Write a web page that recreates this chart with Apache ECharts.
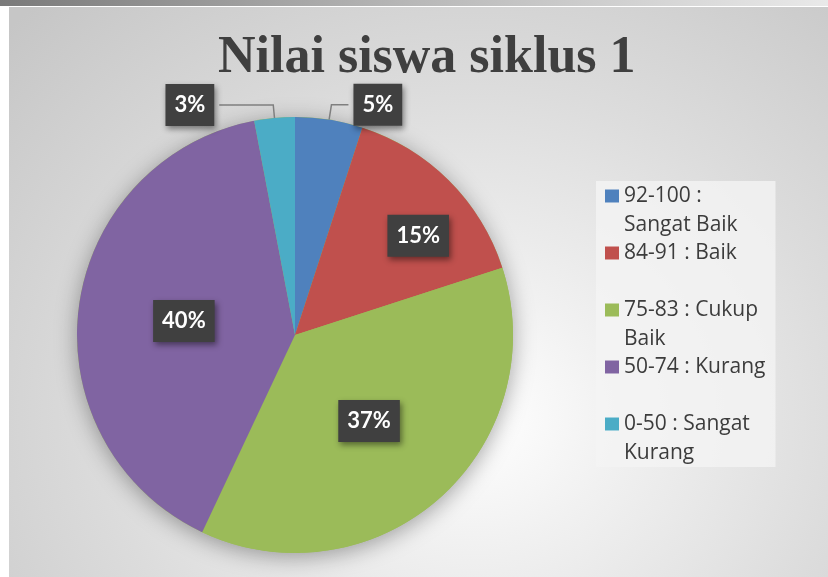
<!DOCTYPE html>
<html>
<head>
<meta charset="utf-8">
<script src="https://cdn.jsdelivr.net/npm/echarts@6/dist/echarts.min.js"></script>
<style>
  html, body { margin: 0; padding: 0; background: #fff; }
  #topbar { position: absolute; left: 0; top: 0; width: 828px; height: 6px;
    background: linear-gradient(to right, #7a7a7a, #b8b8b8 50%, #e9e9e9); }
  #chart { position: absolute; left: 9px; top: 7px; width: 819px; height: 570px;
    background: radial-gradient(ellipse 78% 100% at 57% 72%, #ffffff 0%, #f1f1f1 22%, #dcdcdc 58%, #c6c6c6 100%); }
</style>
</head>
<body>
<div id="topbar"></div>
<div id="chart"></div>
<script>
// nilai siswa siklus 1
var categories = ['92-100 : Sangat Baik', '84-91 : Baik', '75-83 : Cukup Baik', '50-74 : Kurang', '0-50 : Sangat Kurang'];
var legendText = ['92-100 :\nSangat Baik', '84-91 : Baik\n ', '75-83 : Cukup\nBaik', '50-74 : Kurang\n ', '0-50 : Sangat\nKurang'];
var percents = [5, 15, 37, 40, 3];
var colors = ['#4f81bd', '#c0504d', '#9bbb59', '#8064a2', '#4bacc6'];

window.onload = function () {
    var chart = echarts.init(document.getElementById('chart'), null, {renderer: 'canvas'});

    // small slices get a label outside with a leader line, the rest inside
    var outside = {0: {length: 15, length2: 17}, 4: {length: 13, length2: 54}};
    var nudge = {1: [44, -20], 2: [0, 2]};

    var data = percents.map(function (v, i) {
        var item = {value: v, name: categories[i], itemStyle: {color: colors[i]}};
        if (outside[i]) {
            item.label = {position: 'outside'};
            item.labelLine = {show: true, length: outside[i].length, length2: outside[i].length2};
        } else {
            item.label = {position: 'inside'};
            item.labelLine = {show: false};
        }
        return item;
    });

    var boxLabel = {
        show: true,
        formatter: function (p) { return p.value + '%'; },
        color: '#ffffff',
        fontFamily: 'Lato',
        fontWeight: 'bold',
        fontSize: 22,
        lineHeight: 22,
        backgroundColor: '#404040',
        padding: [10, 9],
        shadowColor: 'rgba(0,0,0,0.45)',
        shadowBlur: 6,
        shadowOffsetX: 2,
        shadowOffsetY: 3
    };

    chart.setOption({
        animation: false,
        title: {
            text: 'Nilai siswa siklus 1',
            left: 204,
            top: 21,
            textStyle: {
                fontFamily: 'Liberation Serif',
                fontWeight: 'bold',
                fontSize: 52,
                color: '#3f3f3f'
            }
        },
        legend: {
            data: categories,
            orient: 'vertical',
            left: 587,
            top: 174,
            padding: [1, 10, 0, 9],
            itemGap: 0,
            itemWidth: 14,
            itemHeight: 57,
            icon: 'path://M0,0L0,0M0,7.5H14V20.5H0ZM14,57L14,57',
            backgroundColor: 'rgba(244,244,244,0.8)',
            selectedMode: false,
            formatter: function (name) { return legendText[categories.indexOf(name)]; },
            textStyle: {
                fontFamily: 'Open Sans',
                fontSize: 21,
                lineHeight: 28.5,
                color: '#3c3c3c'
            }
        },
        series: [
            {
                // soft shadow under the whole pie
                type: 'pie',
                silent: true,
                z: 1,
                center: [286, 328],
                radius: 218,
                label: {show: false},
                labelLine: {show: false},
                itemStyle: {
                    color: '#9bbb59',
                    shadowBlur: 22,
                    shadowOffsetY: 4,
                    shadowColor: 'rgba(0,0,0,0.35)'
                },
                data: [{value: 1, name: 'shadow'}]
            },
            {
                type: 'pie',
                z: 2,
                center: [286, 328],
                radius: 218,
                startAngle: 90,
                clockwise: true,
                avoidLabelOverlap: false,
                itemStyle: {borderWidth: 0},
                label: boxLabel,
                labelLine: {
                    lineStyle: {color: '#7f7f7f', width: 1.5}
                },
                labelLayout: function (p) {
                    var n = nudge[p.dataIndex];
                    if (!n) return {};
                    return {dx: n[0], dy: n[1]};
                },
                data: data
            }
        ]
    });
};
</script>
</body>
</html>
